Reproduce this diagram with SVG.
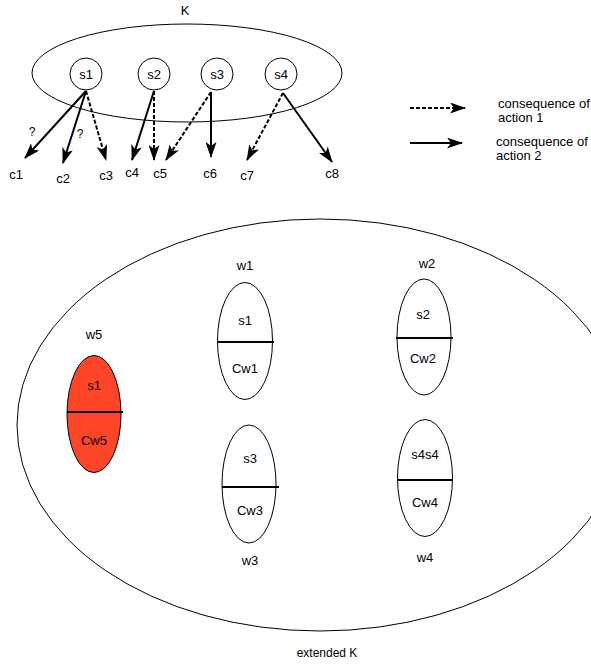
<svg xmlns="http://www.w3.org/2000/svg" width="591" height="664" viewBox="0 0 591 664">
  <style>
    text { font-family: "Liberation Sans", Arial, sans-serif; font-size: 13px; fill: #000; text-anchor: middle; }
    .lg { text-anchor: start; }
    .outline { fill: none; stroke: #000; stroke-width: 1; }
    .world { fill: #fff; stroke: #000; stroke-width: 1; }
    .split { stroke: #000; stroke-width: 2; }
    .act2 { fill: none; stroke: #000; stroke-width: 2; marker-end: url(#head); }
    .act1 { fill: none; stroke: #000; stroke-width: 2; stroke-dasharray: 4 2; marker-end: url(#head); }
  </style>
  <defs>
    <marker id="head" markerUnits="userSpaceOnUse" markerWidth="16" markerHeight="11" viewBox="0 0 16 11" refX="15" refY="5.5" orient="auto">
      <path d="M0,0 L16,5.5 L0,11 L4,5.5 z" fill="#000"/>
    </marker>
  </defs>

  <rect width="591" height="664" fill="#fff"/>

  <!-- knowledge set K -->
  <g id="K">
    <ellipse class="outline" cx="187" cy="73" rx="155" ry="49"/>
    <text x="185" y="15">K</text>
  </g>
  <g id="s1"><circle class="outline" cx="86" cy="74" r="16"/><text x="86" y="78.5">s1</text></g>
  <g id="s2"><circle class="outline" cx="154" cy="74" r="16"/><text x="154" y="78.5">s2</text></g>
  <g id="s3"><circle class="outline" cx="217" cy="74" r="16"/><text x="217" y="78.5">s3</text></g>
  <g id="s4"><circle class="outline" cx="281" cy="74" r="16"/><text x="281" y="78.5">s4</text></g>

  <!-- consequences -->
  <g id="c1"><text x="16" y="178.5">c1</text></g>
  <g id="c2"><text x="63" y="182.5">c2</text></g>
  <g id="c3"><text x="106" y="180">c3</text></g>
  <g id="c4"><text x="132" y="177">c4</text></g>
  <g id="c5"><text x="160" y="177.5">c5</text></g>
  <g id="c6"><text x="210" y="178">c6</text></g>
  <g id="c7"><text x="247" y="180">c7</text></g>
  <g id="c8"><text x="332" y="178">c8</text></g>

  <!-- connectors -->
  <g id="connectors">
    <line class="act2" x1="86" y1="91" x2="25" y2="158"/>
    <line class="act2" x1="86" y1="91" x2="63" y2="163"/>
    <line class="act1" x1="86" y1="91" x2="106" y2="160"/>
    <line class="act2" x1="154" y1="91" x2="132" y2="160"/>
    <line class="act1" x1="154" y1="91" x2="154" y2="160"/>
    <line class="act1" x1="211" y1="92" x2="166" y2="160"/>
    <line class="act2" x1="211" y1="92" x2="211" y2="157"/>
    <line class="act1" x1="283" y1="93" x2="247" y2="160"/>
    <line class="act2" x1="283" y1="93" x2="332" y2="162"/>
    <text x="32" y="136" style="font-size:12px">?</text>
    <text x="80" y="138" style="font-size:12px">?</text>
  </g>

  <!-- legend -->
  <g id="legend">
    <line class="act1" x1="410" y1="108" x2="465" y2="108"/>
    <text class="lg" x="498" y="107.5">consequence of</text>
    <text class="lg" x="498" y="121.5">action 1</text>
    <line class="act2" x1="410" y1="143" x2="462" y2="143"/>
    <text class="lg" x="496" y="146">consequence of</text>
    <text class="lg" x="496" y="160">action 2</text>
  </g>

  <!-- extended K -->
  <g id="extendedK">
    <ellipse class="outline" cx="320" cy="425" rx="303" ry="206"/>
    <text x="327" y="657" style="font-size:12px">extended K</text>
  </g>

  <g id="w1">
    <ellipse class="world" cx="245" cy="341" rx="27.5" ry="58.5"/>
    <line class="split" x1="218" y1="342" x2="274" y2="342"/>
    <text x="245" y="325">s1</text>
    <text x="245" y="372.5">Cw1</text>
    <text x="245" y="270">w1</text>
  </g>
  <g id="w2">
    <ellipse class="world" cx="424" cy="337" rx="27" ry="58"/>
    <line class="split" x1="396" y1="338" x2="453" y2="338"/>
    <text x="423" y="319">s2</text>
    <text x="423" y="363">Cw2</text>
    <text x="427" y="268">w2</text>
  </g>
  <g id="w3">
    <ellipse class="world" cx="249" cy="484" rx="27" ry="59"/>
    <line class="split" x1="222" y1="487" x2="279" y2="487"/>
    <text x="250" y="463">s3</text>
    <text x="250" y="515">Cw3</text>
    <text x="250" y="565">w3</text>
  </g>
  <g id="w4">
    <ellipse class="world" cx="425" cy="478" rx="27.5" ry="58.5"/>
    <line class="split" x1="397" y1="480" x2="453" y2="480"/>
    <text x="425" y="459">s4s4</text>
    <text x="425" y="507">Cw4</text>
    <text x="425" y="562">w4</text>
  </g>
  <g id="w5">
    <ellipse cx="94" cy="414" rx="27" ry="58.5" fill="#ff4527" stroke="#000" stroke-width="1"/>
    <line class="split" x1="67" y1="412" x2="123" y2="412"/>
    <text x="94" y="390">s1</text>
    <text x="94" y="445">Cw5</text>
    <text x="94" y="339">w5</text>
  </g>
</svg>
